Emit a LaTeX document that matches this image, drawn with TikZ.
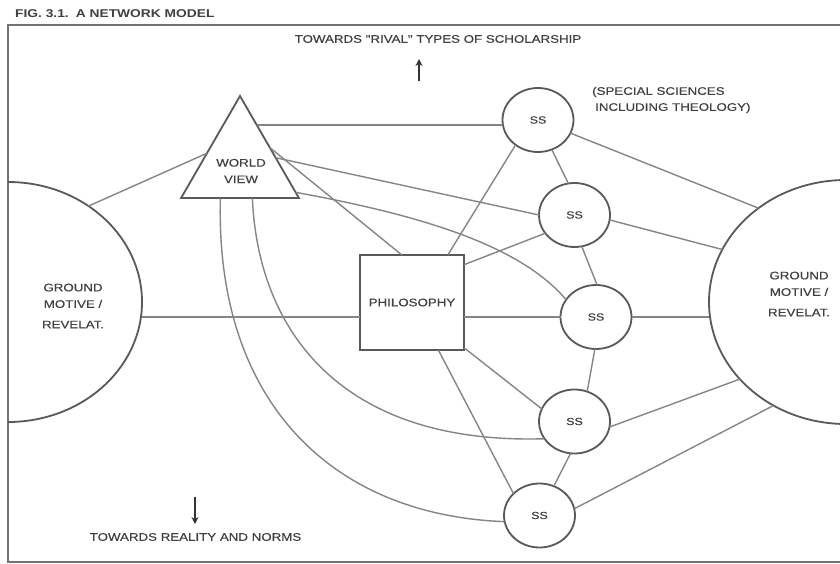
\documentclass[tikz,border=0pt]{standalone}
\usepackage{fontspec}
\setmainfont{Liberation Sans}
\newfontfamily\lblfont[FakeStretch=1.21,FakeBold=0.35]{Liberation Sans}
\newfontfamily\ttlfont[FakeStretch=1.22]{Liberation Sans Bold}
\usetikzlibrary{shapes.geometric,arrows.meta}
\tikzset{
  conn/.style={draw=black!48, line width=1.4pt},
  shapeline/.style={draw=black!65, line width=1.8pt},
  ssnode/.style={shapeline, ellipse, minimum width=71pt, minimum height=64pt, inner sep=0pt, outer sep=0pt, font=\lblfont\fontsize{10.3}{12}\selectfont, text=black!75},
  bignode/.style={shapeline, ellipse, inner sep=0pt, outer sep=0pt},
  lbl/.style={font=\lblfont\fontsize{11}{16.5}\selectfont, text=black!75, inner sep=0pt, align=center},
  pointer/.style={draw=black!80, line width=1.6pt, -{Stealth[length=7pt,width=7pt]}},
}
\begin{document}
\begin{tikzpicture}[x=1pt,y=-1pt]
\useasboundingbox (0,0) rectangle (840,564);
\clip (0,0) rectangle (840,564);
\fill[white] (0,0) rectangle (840,564);
% frame
\draw[draw=black!55, line width=1.7pt] (8,25) rectangle (870,562);
% title
\node[lbl, font=\ttlfont\fontsize{11.3}{12}\selectfont, anchor=west] (title) at (15,14) {FIG. 3.1.\hspace{7pt}A NETWORK MODEL};
% big ellipses
\begin{scope}
\clip (8,0) rectangle (840,564);
\node[bignode, minimum width=268pt, minimum height=240pt] (L) at (8,302) {};
\end{scope}
\node[bignode, minimum width=274pt, minimum height=244pt] (R) at (846,302) {};
\node[lbl] (Ltxt) at (73,306) {GROUND\\MOTIVE /\\[4pt]REVELAT.};
\node[lbl] (Rtxt) at (799,294) {GROUND\\MOTIVE /\\[4pt]REVELAT.};
% texts and pointers
\node[lbl] (topTxt) at (438,39) {TOWARDS "RIVAL" TYPES OF SCHOLARSHIP};
\coordinate (upA) at (419,81);
\coordinate (upB) at (419,59);
\draw[pointer] (upA) -- (upB);
\node[lbl, align=left, anchor=west, font=\lblfont\fontsize{11}{16}\selectfont] (ssTxt) at (592,100) {(SPECIAL SCIENCES\\\hspace{3pt}INCLUDING THEOLOGY)};
\node[lbl] (botTxt) at (195.5,537) {TOWARDS REALITY AND NORMS};
\coordinate (dnA) at (195,497);
\coordinate (dnB) at (195,524);
\draw[pointer] (dnA) -- (dnB);
% world view
\node[shapeline, regular polygon, regular polygon sides=3, minimum size=136pt, inner sep=0pt, outer sep=0pt] (T) at (240,164) {};
\node[lbl] (wvTxt) at (241,171) {WORLD\\VIEW};
% philosophy
\node[shapeline, rectangle, minimum width=104pt, minimum height=95pt, inner sep=0pt, outer sep=0pt, font=\lblfont\fontsize{11}{12}\selectfont, text=black!75] (P) at (412,302.5) {PHILOSOPHY};
% special sciences
\node[ssnode] (S1) at (538,120) {SS};
\node[ssnode] (S2) at (574.5,215) {SS};
\node[ssnode] (S3) at (596,317) {SS};
\node[ssnode] (S4) at (574.5,421.5) {SS};
\node[ssnode] (S5) at (539.5,515.5) {SS};
% connectors
\draw[conn] (L.50) -- (T.162);
\draw[conn] (T.67) -- (T.67 -| S1.west);
\draw[conn] (T.29) -- (P.102);
\draw[conn] (T.10) -- (S2.west);
\draw[conn] (T.-27) .. controls (420,215) and (520,245) .. (S3.150);
\draw[conn] (T.290) .. controls (258,330) and (340,445) .. (S4.210);
\draw[conn] (T.240) .. controls (215,400) and (330,515) .. (S5.190);
\draw[conn] (L.east |- S3) -- (P.west |- S3);
\draw[conn] (P.east |- S3) -- (S3.west);
\draw[conn] (S3.east) -- (R.west |- S3);
\draw[conn] (P.53) -- (S1.228);
\draw[conn] (P.36) -- (S2.212);
\draw[conn] (P.-41) -- (S4.159);
\draw[conn] (P.-61) -- (S5.140);
\draw[conn] (S1.295) -- (S2.101);
\draw[conn] (S2.283) -- (S3.88);
\draw[conn] (S3.268) -- (S4.67);
\draw[conn] (S4.263) -- (S5.64);
\draw[conn] (S1.-22) -- (R.133);
\draw[conn] (S2.-8) -- (R.157);
\draw[conn] (S4.-9) -- (R.216);
\draw[conn] (S5.11) -- (R.235);
\end{tikzpicture}
\end{document}
